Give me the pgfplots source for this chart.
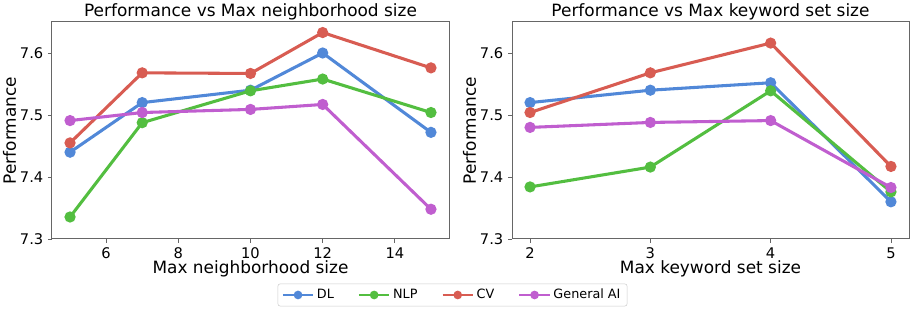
\documentclass[border=0pt]{standalone}
\usepackage{pgfplots}
\pgfplotsset{compat=1.18}
\usepackage{fontspec}
\setmainfont{DejaVu Sans}
\definecolor{cDL}{RGB}{81,136,216}
\definecolor{cNLP}{RGB}{83,190,64}
\definecolor{cCV}{RGB}{216,92,82}
\definecolor{cGA}{RGB}{192,94,207}
\pgfplotsset{
  myaxis/.style={
    scale only axis, width=297.75pt, height=162.75pt,
    ymin=7.3, ymax=7.65, ytick={7.3,7.4,7.5,7.6},
    /pgf/number format/assume math mode=true,
    yticklabel style={/pgf/number format/.cd, fixed, fixed zerofill, precision=1},
    tick label style={font=\fontsize{11}{13}\selectfont},
    label style={font=\fontsize{12.7}{15}\selectfont},
    every axis title shift=0pt,
    title style={font=\fontsize{12.7}{15}\selectfont, at={(0.5,1)}, anchor=base, yshift=4pt},
    xlabel style={at={(axis description cs:0.5,0)}, anchor=base, yshift=-26.25pt},
    ylabel shift=-4pt,
    tick pos=left, tick align=outside, major tick length=3pt,
    axis line style={black!60, line width=0.75pt},
    every tick/.style={black!60, line width=0.6pt},
    every axis plot/.append style={line width=2.3pt, mark=*, mark size=3pt, mark options={solid}},
    legend image code/.code={\draw[mark repeat=2,mark phase=2,mark size=2.4pt,line width=1.6pt] plot coordinates {(0cm,0cm) (0.4cm,0cm) (0.8cm,0cm)};},
  }
}
\begin{document}
\begin{tikzpicture}
\begin{axis}[myaxis, xmin=4.5, xmax=15.5, xtick={6,8,10,12,14},
  title={Performance vs Max neighborhood size},
  xlabel={Max neighborhood size}, ylabel={Performance},
  legend columns=4,
  legend style={at={(axis description cs:1.0088,-0.258)}, anchor=center,
    font=\fontsize{9.6}{11}\selectfont, draw=black!20, rounded corners=2pt,
    /tikz/every even column/.append style={column sep=16pt}, inner ysep=2pt},
]
\addplot[color=cDL] coordinates {(5,7.440) (7,7.520) (10,7.540) (12,7.600) (15,7.472)};
\addlegendentry{DL}
\addplot[color=cNLP] coordinates {(5,7.3355) (7,7.4876) (10,7.539) (12,7.558) (15,7.504)};
\addlegendentry{NLP}
\addplot[color=cCV] coordinates {(5,7.455) (7,7.568) (10,7.567) (12,7.633) (15,7.576)};
\addlegendentry{CV}
\addplot[color=cGA] coordinates {(5,7.491) (7,7.504) (10,7.509) (12,7.517) (15,7.348)};
\addlegendentry{General AI}
\end{axis}
\begin{axis}[myaxis, xshift=345pt, xmin=1.85, xmax=5.15, xtick={2,3,4,5},
  title={Performance vs Max keyword set size},
  xlabel={Max keyword set size}, ylabel={Performance},
]
\addplot[color=cDL] coordinates {(2,7.520) (3,7.540) (4,7.552) (5,7.360)};
\addplot[color=cNLP] coordinates {(2,7.384) (3,7.416) (4,7.539) (5,7.376)};
\addplot[color=cCV] coordinates {(2,7.504) (3,7.568) (4,7.616) (5,7.417)};
\addplot[color=cGA] coordinates {(2,7.480) (3,7.488) (4,7.491) (5,7.383)};
\end{axis}
\pgfresetboundingbox
\useasboundingbox (-39pt,-56.25pt) rectangle (647.25pt,179.25pt);
\end{tikzpicture}
\end{document}
